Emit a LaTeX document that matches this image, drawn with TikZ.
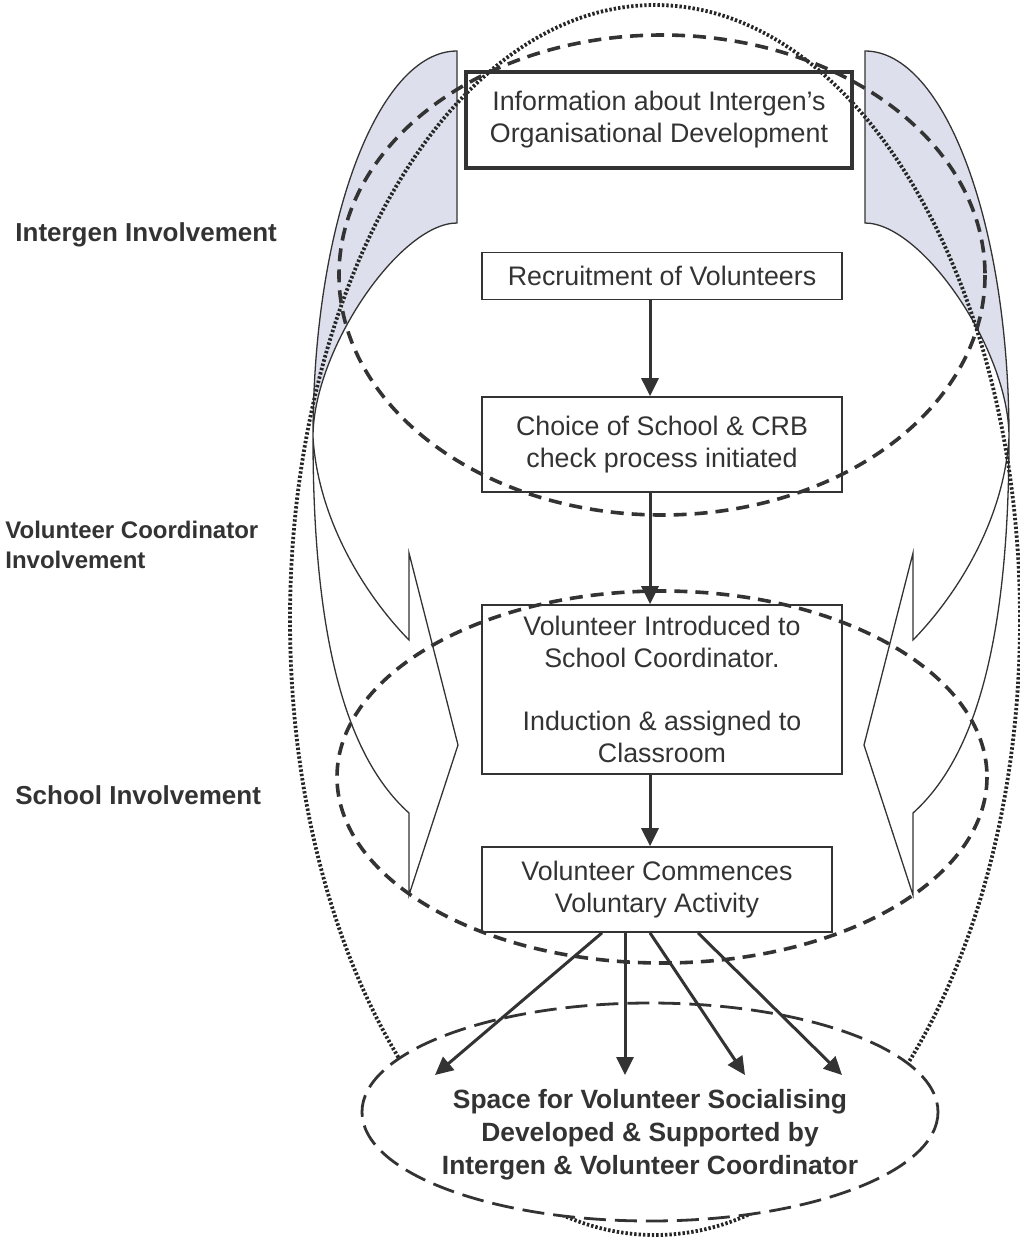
\documentclass[tikz,border=0pt]{standalone}
\usepackage{fontspec}
\setmainfont{Liberation Sans}
\usepackage{tikz}
\usetikzlibrary{arrows.meta}

\definecolor{inkgrey}{RGB}{51,51,51}
\definecolor{backshade}{RGB}{221,224,236}

\tikzset{
  stagebox/.style={draw=inkgrey, line width=0.85pt, rectangle, inner sep=0pt, align=center, text=inkgrey, font=\fontsize{13.4}{16}\selectfont},
  sidelabel/.style={anchor=west, inner sep=0pt, align=left, text=inkgrey, font=\bfseries\fontsize{13}{15}\selectfont},
  spacetext/.style={inner sep=0pt, align=center, text=inkgrey, font=\bfseries\fontsize{13.2}{16.5}\selectfont},
  flowarrow/.style={draw=inkgrey, line width=1.5pt, -{Triangle[length=9pt,width=8.5pt]}},
  bandline/.style={draw=inkgrey, line width=0.65pt, line join=miter},
  dotring/.style={draw=black!85, line width=1.9pt, dash pattern=on 1.2pt off 1pt},
  dashring/.style={draw=inkgrey, line width=1.8pt, dash pattern=on 6.5pt off 4pt},
  spacering/.style={draw=inkgrey, line width=1.4pt, dash pattern=on 11pt off 4.5pt, fill=white},
}

\begin{document}
\begin{tikzpicture}[x=0.5pt,y=0.5pt,yscale=-1,xscale=1]
    \useasboundingbox (0,0) rectangle (1019,1238);

    %Shape: Curved Arrows [left and right, mirrored about x=661]
    \foreach \side in {1,-1} {
      \begin{scope}[shift={(661,0)}, xscale=\side]
        %back face of the band
        \draw[bandline, fill=backshade] (-204,51) .. controls (-283.5,51) and (-348,224) .. (-348,437) .. controls (-348,350) and (-261,223) .. (-204,223) -- cycle ;
        %front face with the head
        \draw[bandline] (-348,437) .. controls (-348,650) and (-311,760) .. (-252,813) -- (-252,895) -- (-203,745) -- (-252,553) -- (-252,640) .. controls (-296,595) and (-343,520) .. (-348,437) ;
      \end{scope}
    }

    %Shape: Ellipse [dotted, round everything]
    \draw[dotring] (655,620) ellipse [x radius=365, y radius=615] ;
    %Shape: Ellipse [socialising space]
    \draw[spacering] (650,1112) ellipse [x radius=288, y radius=109] ;
    %Shape: Ellipse [intergen involvement]
    \draw[dashring] (662,275) ellipse [x radius=323, y radius=240] ;
    %Shape: Ellipse [school involvement]
    \draw[dashring] (662,777) ellipse [x radius=325, y radius=186] ;

    %Shape: Rectangle
    \node[stagebox, line width=1.8pt, minimum width=193pt, minimum height=48pt] (orgdev) at (659,120) {Information about Intergen’s\\Organisational Development} ;
    %Shape: Rectangle
    \node[stagebox, minimum width=180pt, minimum height=23.5pt] (recruit) at (662,276) {Recruitment of Volunteers} ;
    %Shape: Rectangle
    \node[stagebox, minimum width=180pt, minimum height=47.5pt] (choice) at (662,444.5) {Choice of School \& CRB\\check process initiated} ;
    %Shape: Rectangle
    \node[stagebox, minimum width=180pt, minimum height=84.5pt] (intro) at (662,689.5) {Volunteer Introduced to\\School Coordinator.\\[15.5pt]Induction \& assigned to\\Classroom} ;
    %Shape: Rectangle
    \node[stagebox, minimum width=175pt, minimum height=42.5pt] (activity) at (657,889.5) {Volunteer Commences\\Voluntary Activity} ;

    %Straight Lines [down the middle]
    \coordinate (spine) at (650,0) ;
    \draw[flowarrow] (recruit.south -| spine) -- (choice.north -| spine) ;
    \draw[flowarrow] (choice.south -| spine) -- (intro.north -| spine) ;
    \draw[flowarrow] (intro.south -| spine) -- (activity.north -| spine) ;

    %Straight Lines [fanning into the space]
    \foreach \n/\sx/\tx in {1/602/435, 2/625/625, 3/650/745, 4/698/842} {
      \coordinate (out\n) at (\sx,0) ;
      \coordinate (land\n) at (\tx,1075) ;
      \draw[flowarrow] (activity.south -| out\n) -- (land\n) ;
    }

    % Text Node
    \node[spacetext] (space) at (650,1135) {Space for Volunteer Socialising\\Developed \& Supported by\\Intergen \& Volunteer Coordinator} ;
    % Text Node
    \node[sidelabel] (intergenlbl) at (15,235) {Intergen Involvement} ;
    % Text Node
    \node[sidelabel, font=\bfseries\fontsize{12}{15}\selectfont] (coordlbl) at (5,545) {Volunteer Coordinator\\Involvement} ;
    % Text Node
    \node[sidelabel] (schoollbl) at (15,795) {School Involvement} ;

\end{tikzpicture}
\end{document}
